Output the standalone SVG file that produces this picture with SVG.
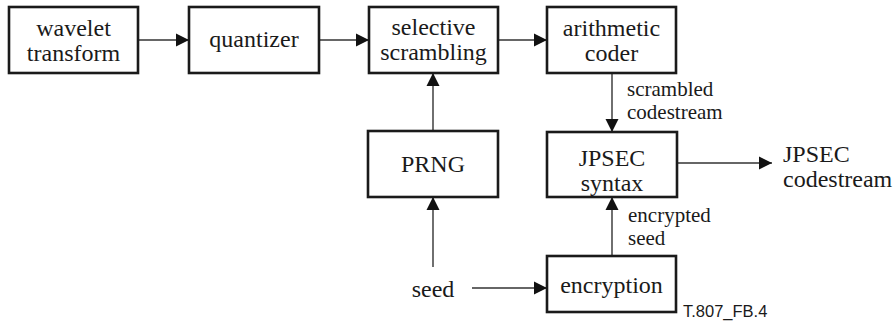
<svg xmlns="http://www.w3.org/2000/svg" width="893" height="325" viewBox="0 0 893 325">
<style>
.box{fill:#fff;stroke:#1a1a1a;stroke-width:2.6}
.ln{fill:none;stroke:#333;stroke-width:1.4}
.c{text-anchor:middle}
.lb{font-size:21px}
</style>
<defs>
<marker id="ah" markerUnits="userSpaceOnUse" markerWidth="14" markerHeight="14" viewBox="0 0 14 14" refX="13" refY="7" orient="auto">
<path d="M0,0.5 L13,7 L0,13.5 Z" fill="#111"/>
</marker>
</defs>
<g id="connectors">
<line class="ln" x1="138" y1="40" x2="189" y2="40" marker-end="url(#ah)"/>
<line class="ln" x1="319" y1="40" x2="369" y2="40" marker-end="url(#ah)"/>
<line class="ln" x1="498" y1="40" x2="547" y2="40" marker-end="url(#ah)"/>
<line class="ln" x1="433" y1="131" x2="433" y2="73" marker-end="url(#ah)"/>
<line class="ln" x1="433" y1="267" x2="433" y2="197" marker-end="url(#ah)"/>
<line class="ln" x1="612" y1="73" x2="612" y2="132" marker-end="url(#ah)"/>
<line class="ln" x1="612" y1="256" x2="612" y2="197" marker-end="url(#ah)"/>
<line class="ln" x1="677" y1="163" x2="772" y2="163" marker-end="url(#ah)"/>
<line class="ln" x1="472" y1="288" x2="547" y2="288" marker-end="url(#ah)"/>
</g>
<g font-family="Liberation Serif, DejaVu Serif, serif" font-size="24" fill="#1a1a1a">
<g id="wavelet">
<rect class="box" x="9" y="7" width="129" height="66"/>
<text class="c" x="73.5" y="36">wavelet</text>
<text class="c" x="73.5" y="61">transform</text>
</g>
<g id="quantizer">
<rect class="box" x="189" y="7" width="130" height="66"/>
<text class="c" x="254" y="47">quantizer</text>
</g>
<g id="scrambling">
<rect class="box" x="369" y="7" width="129" height="66"/>
<text class="c" x="433.5" y="35">selective</text>
<text class="c" x="433.5" y="60">scrambling</text>
</g>
<g id="coder">
<rect class="box" x="547" y="7" width="129" height="66"/>
<text class="c" x="611.5" y="36">arithmetic</text>
<text class="c" x="611.5" y="61">coder</text>
</g>
<g id="prng">
<rect class="box" x="368" y="131" width="130" height="66"/>
<text class="c" x="433" y="172">PRNG</text>
</g>
<g id="jpsec">
<rect class="box" x="547" y="132" width="130" height="65"/>
<text class="c" x="612" y="166">JPSEC</text>
<text class="c" x="612" y="191">syntax</text>
</g>
<g id="encryption">
<rect class="box" x="547" y="256" width="129" height="56"/>
<text class="c" x="611.5" y="293">encryption</text>
</g>
<g id="labels">
<text class="lb" x="627" y="96">scrambled</text>
<text class="lb" x="627" y="119">codestream</text>
<text x="783" y="162">JPSEC</text>
<text x="783" y="187">codestream</text>
<text class="lb" x="628" y="222">encrypted</text>
<text class="lb" x="628" y="245">seed</text>
<text class="c" x="433" y="297">seed</text>
<text x="683" y="317" font-family="Liberation Sans, Arial, sans-serif" font-size="16.5">T.807_FB.4</text>
</g>
</g>
</svg>
